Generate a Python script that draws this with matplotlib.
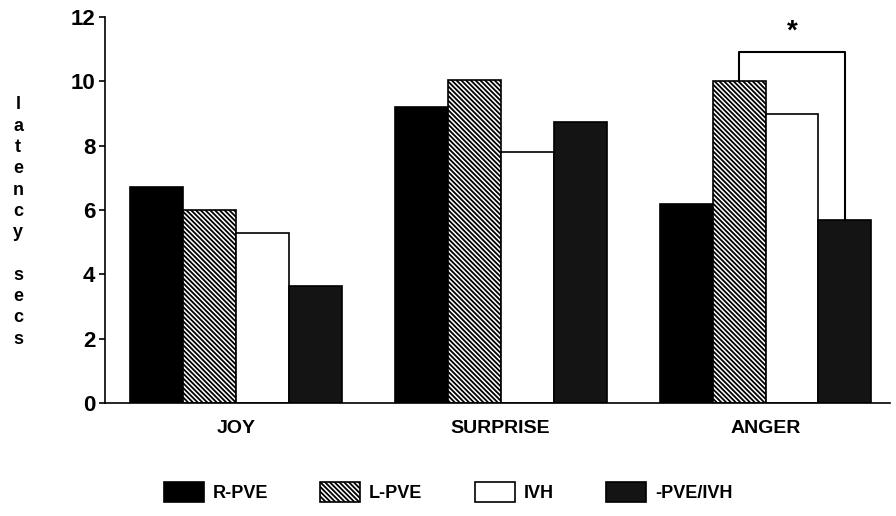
import numpy as np
import matplotlib
matplotlib.use("Agg")
import matplotlib.pyplot as plt
from matplotlib.patches import Patch

plt.rcParams["font.family"] = ["Liberation Sans", "DejaVu Sans"]
plt.rcParams["font.weight"] = "bold"
plt.rcParams["hatch.linewidth"] = 1.3

## data
emotions = ["JOY", "SURPRISE", "ANGER"]
groups = ["R-PVE", "L-PVE", "IVH", "-PVE/IVH"]
r_pve = [6.7, 9.2, 6.2]
l_pve = [6.0, 10.05, 10.0]
ivh = [5.3, 7.8, 9.0]
neither = [3.65, 8.75, 5.7]

# bracket between L-PVE and -PVE/IVH for ANGER
sig_group = 2
sig_pair = (1, 3)
sig_level = 10.9

STYLES = [
    ("black", "black", ""),
    ("white", "black", "\\" * 7),
    ("white", "black", ""),
    ("#141414", "black", ""),
]

fig = plt.figure(figsize=(8.96, 5.16), dpi=100)
ax = fig.add_axes([105 / 896, 1 - 403 / 516, 785 / 896, 386 / 516])

x = np.arange(len(emotions))
w = 0.2
series = [r_pve, l_pve, ivh, neither]
for i, vals in enumerate(series):
    fc, ec, hatch = STYLES[i]
    ax.bar(x + (i - 1.5) * w, vals, w, color=fc, edgecolor=ec, hatch=hatch,
           linewidth=1.2, label=groups[i], zorder=2)

# significance bracket
xa = sig_group + (sig_pair[0] - 1.5) * w
xb = sig_group + (sig_pair[1] - 1.5) * w
ya = series[sig_pair[0]][sig_group]
yb = series[sig_pair[1]][sig_group]
ax.plot([xa, xa, xb, xb], [ya, sig_level, sig_level, yb], color="black", lw=1.5, zorder=3)
ax.text((xa + xb) / 2, 11.55, "*", ha="center", va="center", fontsize=20, fontweight="bold")

ax.set_xlim(-0.494, 2.47)
ax.set_ylim(0, 12)
ax.set_yticks([0, 2, 4, 6, 8, 10, 12])
ax.set_xticks(x)
ax.set_xticklabels(emotions, fontsize=14, fontweight="bold")
ax.tick_params(axis="x", length=0, pad=12)
ax.tick_params(axis="y", direction="out", length=4, width=1.2, labelsize=16, pad=3)
ax.spines["top"].set_visible(False)
ax.spines["right"].set_visible(False)
ax.spines["left"].set_linewidth(1.2)
ax.spines["bottom"].set_linewidth(1.2)

# stacked vertical axis label
fig.text(18 / 896, 1 - 222 / 516, "l\na\nt\ne\nn\nc\ny\n\ns\ne\nc\ns", ha="center", va="center",
         fontsize=13, fontweight="bold", linespacing=1.33)

handles = [Patch(facecolor=STYLES[i][0], edgecolor=STYLES[i][1], hatch=STYLES[i][2], linewidth=1.2)
           for i in range(len(groups))]
fig.legend(handles, groups, loc="center", bbox_to_anchor=(448 / 896, 1 - 492 / 516), ncol=4, frameon=False,
           fontsize=13, handlelength=2.2, handleheight=1.3, columnspacing=2.9, handletextpad=0.5)

plt.savefig("out.png", dpi=100)
